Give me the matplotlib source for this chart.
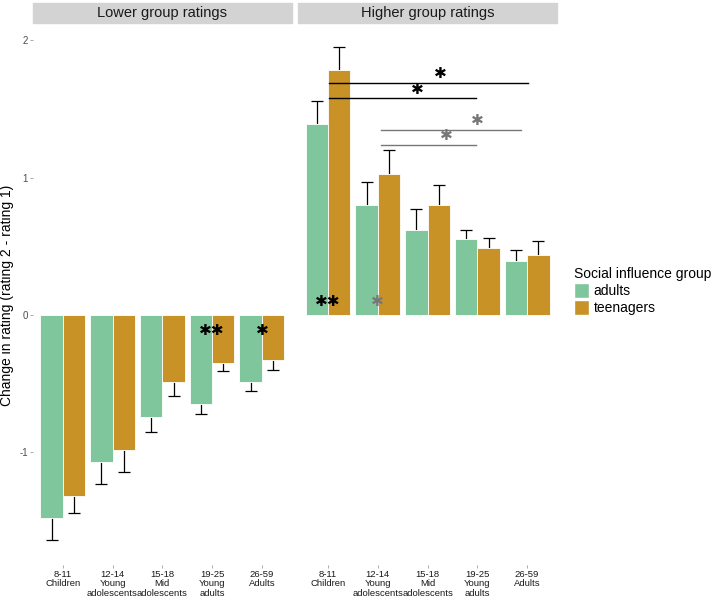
import matplotlib
matplotlib.use("Agg")
import matplotlib.pyplot as plt
from matplotlib.patches import Patch

plt.rcParams['font.family'] = ['Liberation Sans', 'DejaVu Sans']

age_labels = ["8-11\nChildren", "12-14\nYoung\nadolescents", "15-18\nMid\nadolescents",
              "19-25\nYoung\nadults", "26-59\nAdults"]
groups = ["adults", "teenagers"]
colors = {"adults": "#80C69C", "teenagers": "#C89227"}

# lower group ratings (mean, standard error)
lower_adults = [-1.48, -1.07, -0.74, -0.65, -0.49]
lower_adults_se = [0.16, 0.16, 0.11, 0.07, 0.06]
lower_teens = [-1.32, -0.98, -0.49, -0.35, -0.33]
lower_teens_se = [0.12, 0.16, 0.10, 0.06, 0.07]

# higher group ratings
higher_adults = [1.39, 0.80, 0.62, 0.55, 0.39]
higher_adults_se = [0.17, 0.17, 0.15, 0.07, 0.08]
higher_teens = [1.78, 1.03, 0.80, 0.49, 0.44]
higher_teens_se = [0.17, 0.17, 0.15, 0.07, 0.10]

# comparison brackets in the higher panel: (x0, x1, y, star x, colour)
brackets = [(1.02, 5.02, 1.69, 3.26, "black"),
            (1.02, 3.98, 1.58, 2.80, "black"),
            (2.06, 4.88, 1.35, 4.00, "#777777"),
            (2.06, 3.98, 1.24, 3.38, "#777777")]
# stars inside bars: (panel, x, y, text, colour)
bar_stars = [(0, 4.0, -0.11, "✱✱", "black"),
             (0, 5.0, -0.11, "✱", "black"),
             (1, 1.0, 0.10, "✱✱", "black"),
             (1, 2.0, 0.10, "✱", "#777777")]

fig = plt.figure(figsize=(7.15, 5.98), dpi=100)
ax_lo = fig.add_axes([0.046, 0.055, 0.362, 0.903])
ax_hi = fig.add_axes([0.417, 0.055, 0.362, 0.903])

x = list(range(1, 6))
width = 0.45


def draw_panel(ax, a, a_se, t, t_se, title):
    for vals, se, off, g in [(a, a_se, -width / 2, "adults"), (t, t_se, width / 2, "teenagers")]:
        xs = [i + off for i in x]
        ax.bar(xs, vals, width=width, color=colors[g], edgecolor="white", linewidth=0.6, zorder=2)
        ends = [v - s if v < 0 else v + s for v, s in zip(vals, se)]
        ax.vlines(xs, vals, ends, color="black", lw=0.9, zorder=1)
        ax.plot(xs, ends, ls="none", marker="_", markersize=8, mew=0.9, color="black", zorder=1)
    ax.set_xlim(0.4, 5.6)
    ax.set_ylim(-1.82, 2.11)
    ax.set_xticks(x)
    ax.set_xticklabels(age_labels, fontsize=6.8, linespacing=1.05, color="#1A1A1A")
    ax.set_yticks([-1, 0, 1, 2])
    ax.set_yticklabels(["-1", "0", "1", "2"], fontsize=7, color="#4D4D4D")
    ax.tick_params(length=2, width=0.5, color="#888888", pad=1.5)
    for s in ax.spines.values():
        s.set_visible(False)
    # facet strip
    strip = plt.Rectangle((0, 1.0 + 2 / 540), 1, 20 / 540, transform=ax.transAxes,
                          color="#D3D3D3", clip_on=False, zorder=0)
    ax.add_patch(strip)
    ax.text(0.5, 1.0 + 12 / 540, title, transform=ax.transAxes, ha="center", va="center",
            fontsize=10.5, color="#1A1A1A")


draw_panel(ax_lo, lower_adults, lower_adults_se, lower_teens, lower_teens_se, "Lower group ratings")
draw_panel(ax_hi, higher_adults, higher_adults_se, higher_teens, higher_teens_se, "Higher group ratings")
ax_hi.tick_params(axis="y", left=False, labelleft=False)

for x0, x1, y, sx, c in brackets:
    ax_hi.plot([x0, x1], [y, y], color=c, lw=1.0)
    ax_hi.text(sx, y + 0.01, "✱", ha="center", va="bottom", fontsize=11,
               color=c, family="DejaVu Sans")

for p, sx, sy, txt, c in bar_stars:
    ax = ax_lo if p == 0 else ax_hi
    ax.text(sx, sy, txt, ha="center", va="center", fontsize=11, color=c,
            family="DejaVu Sans", zorder=3)

ax_lo.set_ylabel("Change in rating (rating 2 - rating 1)", fontsize=10)
ax_lo.yaxis.set_label_coords(-0.072, 0.5)

handles = [Patch(facecolor=colors[g], edgecolor="white") for g in groups]
fig.legend(handles, groups, loc="upper left", bbox_to_anchor=(0.803, 0.553),
           title="Social influence group", title_fontsize=10, fontsize=10,
           frameon=False, handlelength=1.1, handleheight=1.2, handletextpad=0.3,
           labelspacing=0.15, borderpad=0.0, borderaxespad=0.0, alignment="left")

fig.savefig("out.png", dpi=100)
